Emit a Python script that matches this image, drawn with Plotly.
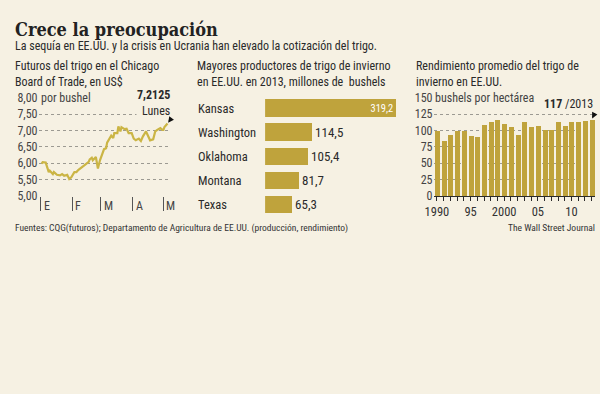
import plotly.graph_objects as go

# ---------------- data ----------------
dates = ["2014-01-02","2014-01-03","2014-01-06","2014-01-07","2014-01-09","2014-01-10","2014-01-13","2014-01-14",
         "2014-01-17","2014-01-20","2014-01-22","2014-01-24","2014-01-27","2014-01-29","2014-01-31",
         "2014-02-03","2014-02-05","2014-02-07","2014-02-10","2014-02-13","2014-02-17","2014-02-18","2014-02-20",
         "2014-02-21","2014-02-24","2014-02-25","2014-02-26","2014-02-28",
         "2014-03-03","2014-03-04","2014-03-06","2014-03-07","2014-03-11","2014-03-13","2014-03-14","2014-03-17",
         "2014-03-18","2014-03-20","2014-03-21","2014-03-24","2014-03-26","2014-03-28","2014-03-31",
         "2014-04-02","2014-04-04","2014-04-07","2014-04-09","2014-04-11","2014-04-14","2014-04-16","2014-04-18",
         "2014-04-21","2014-04-23","2014-04-25","2014-04-28","2014-04-30",
         "2014-05-01","2014-05-02","2014-05-05"]
prices = [5.99,6.03,6.02,5.94,5.73,5.77,5.67,5.73,5.65,5.63,5.67,5.62,5.65,5.52,5.57,
          5.73,5.73,5.80,5.86,5.94,6.04,6.12,6.17,6.09,6.19,6.06,5.84,6.09,
          6.33,6.43,6.46,6.63,6.84,6.77,6.92,6.92,7.12,6.97,7.10,7.04,7.05,6.92,6.92,
          6.75,6.70,6.75,6.68,6.82,6.97,6.82,6.70,6.73,6.97,7.02,7.07,7.02,
          7.02,7.10,7.2125]
month_starts = ["2014-01-01","2014-02-01","2014-03-01","2014-04-01","2014-05-01"]
month_labels = ["E","F","M","A","M"]
price_ticks = [5.0,5.5,6.0,6.5,7.0,7.5,8.0]
price_tick_labels = ["5,00","5,50","6,00","6,50","7,00","7,50","8,00"]

states = ["Kansas","Washington","Oklahoma","Montana","Texas"]
production = [319.2,114.5,105.4,81.7,65.3]
production_labels = ["319,2","114,5","105,4","81,7","65,3"]

years = list(range(1990, 2014))
yields = [100,85,93,99,99,92,90,109,114,117,111,106,93,114,106,108,101,101,114,108,114,113,115,117]
yield_ticks = [0,25,50,75,100,125,150]
yield_tick_labels = ["0","25","50","75","100","125","150"]
year_tick_labels = ["1990","","","","","95","","","","","2000","","","","","05","","","","","10","","",""]

# ---------------- style ----------------
BG = "#f6f1e3"
GOLD = "#bfa33c"
LINE = "#cbb545"
TXT = "#2a2a2a"
GRID = "#9c9a92"
FONT = "Roboto Condensed, DejaVu Sans Condensed, sans-serif"
TITLE_FONT = "DejaVu Serif Condensed, Liberation Serif, serif"
W, H = 600, 394

def px(x):
    return x / W

def py(y):
    return 1 - y / H

fig = go.Figure()

fig.add_trace(go.Scatter(x=dates, y=prices, mode="lines", line=dict(color=LINE, width=2.2),
                         xaxis="x", yaxis="y", hoverinfo="skip", showlegend=False))

fig.add_trace(go.Bar(y=states, x=production, orientation="h", marker=dict(color=GOLD, line=dict(width=0)),
                     width=0.72, text=production_labels,
                     textposition=["inside","outside","outside","outside","outside"],
                     insidetextanchor="end",
                     insidetextfont=dict(color="white", size=13, family=FONT),
                     outsidetextfont=dict(color=TXT, size=13, family=FONT),
                     cliponaxis=False, xaxis="x2", yaxis="y2", hoverinfo="skip", showlegend=False))

fig.add_trace(go.Bar(x=years, y=yields, marker=dict(color=GOLD, line=dict(width=0)), width=0.74,
                     xaxis="x3", yaxis="y3", hoverinfo="skip", showlegend=False))

ann = []
def A(text, x, y, size=12, xanchor="left", yanchor="middle", color=TXT, family=FONT, **kw):
    d = dict(text=text, x=x, y=y, xref=kw.pop("xref", "paper"), yref=kw.pop("yref", "paper"),
             xanchor=xanchor, yanchor=yanchor, showarrow=kw.pop("showarrow", False),
             font=dict(size=size, color=color, family=family))
    d.update(kw)
    ann.append(d)

# titles
A("<b>Crece la preocupación</b>", px(4), py(23), size=18, family=TITLE_FONT, color="#222")
A("La sequía en EE.UU. y la crisis en Ucrania han elevado la cotización del trigo.", px(4), py(40.5), size=12)

A("Futuros del trigo en el Chicago<br>Board of Trade, en US$", px(4), py(69.5), size=12, align="left")
A("Mayores productores de trigo de invierno<br>en EE.UU. en 2013, millones de  bushels", px(189), py(69.5), size=12, align="left")
A("Rendimiento promedio del trigo de<br>invierno en EE.UU.", px(411), py(69.5), size=12, align="left")

# line chart extras
A("por bushel", px(29), 8.0, yref="y", size=12, bgcolor=BG, borderpad=2, color="#444")
for d, lab in zip(month_starts, month_labels):
    A(lab, d, py(206), xref="x", size=12, xshift=1, color="#444")
A("<b>7,2125</b><br>Lunes", dates[-1], prices[-1], xref="x", yref="y", size=12,
  xanchor="right", yanchor="bottom", align="right", showarrow=True, ax=3, ay=-4,
  arrowhead=2, arrowsize=0.9, arrowwidth=1.3, arrowcolor="#111", standoff=1, bgcolor=BG, borderpad=0)

# bar chart labels
for s in states:
    A(s, px(190), s, yref="y2", size=12.5)

# yield chart extras
A("bushels por hectárea\u00a0\u00a0\u00a0", px(430), 150, yref="y3", size=12, bgcolor=BG, borderpad=1, color="#444")
A("<b>117</b> /2013", years[-1], yields[-1], xref="x3", yref="y3", size=12,
  xanchor="right", yanchor="bottom", showarrow=True, ax=3, ay=-6,
  arrowhead=2, arrowsize=0.9, arrowwidth=1.3, arrowcolor="#111", standoff=1, bgcolor=BG, borderpad=1)

# footer
A("Fuentes: CQG(futuros); Departamento de Agricultura de EE.UU. (producción, rendimiento)", px(4), py(229), size=9.5, color="#333")
A("The Wall Street Journal", px(597), py(229), size=9.5, xanchor="right", color="#333")

fig.update_layout(
    width=W, height=H, margin=dict(l=0, r=0, t=0, b=0),
    paper_bgcolor=BG, plot_bgcolor="rgba(0,0,0,0)",
    font=dict(family=FONT, color=TXT, size=12),
    showlegend=False, bargap=0,
    annotations=ann,
    xaxis=dict(domain=[px(30), px(163)], range=["2013-12-30", "2014-05-07"], type="date",
               showgrid=False, zeroline=False, showline=False, ticks="outside", ticklen=14,
               tickwidth=1, tickcolor="#555", tickvals=month_starts, showticklabels=False,
               anchor="y", fixedrange=True),
    yaxis=dict(domain=[py(196), py(94)], range=[5, 8], tickvals=price_ticks, ticktext=price_tick_labels,
               showgrid=True, gridcolor=GRID, griddash="dot", gridwidth=1, zeroline=False,
               ticks="", tickfont=dict(size=12, color="#444"), anchor="x", fixedrange=True),
    xaxis2=dict(domain=[px(260), px(393)], range=[0, 319.2], visible=False, anchor="y2"),
    yaxis2=dict(domain=[py(217.5), py(92.5)], type="category", categoryorder="array",
                categoryarray=states, range=[4.5, -0.5], visible=False, anchor="x2"),
    xaxis3=dict(domain=[px(431), px(595)], range=[1989.5, 2013.5], tickvals=years, ticktext=year_tick_labels,
                ticks="outside", ticklen=4, tickwidth=1, tickcolor=TXT, showline=True, linecolor=TXT,
                linewidth=1, showgrid=False, zeroline=False, tickfont=dict(size=12.5, color="#333"),
                anchor="y3"),
    yaxis3=dict(domain=[py(196), py(94)], range=[0, 150], tickvals=yield_ticks, ticktext=yield_tick_labels,
                showgrid=True, gridcolor=GRID, griddash="dot", gridwidth=1, zeroline=False, ticks="",
                tickfont=dict(size=12, color="#444"), anchor="x3"),
)

fig.write_html("out.html", config={"displayModeBar": False},
               post_script="document.body.style.margin='0';")
